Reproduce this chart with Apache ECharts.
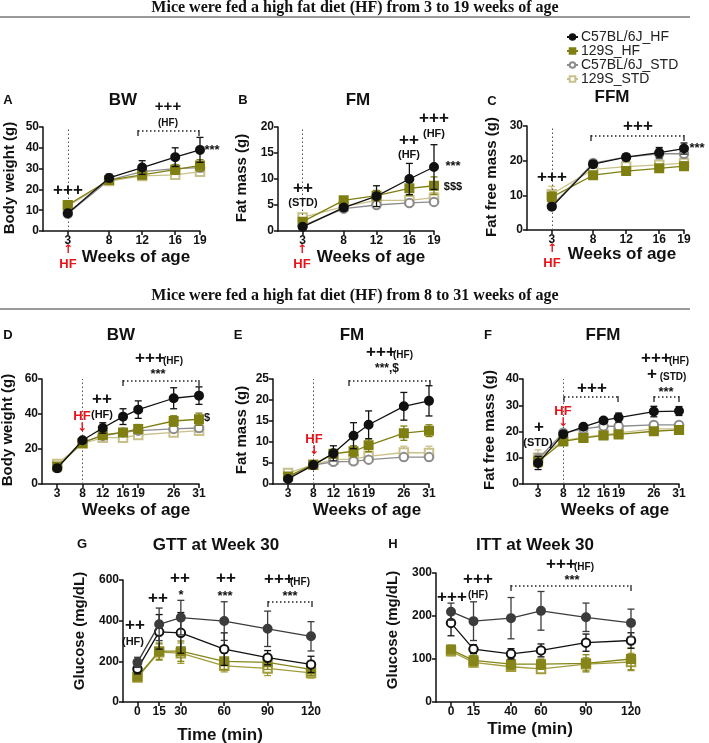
<!DOCTYPE html>
<html><head><meta charset="utf-8">
<script src="https://cdn.jsdelivr.net/npm/echarts@6/dist/echarts.min.js"></script>
<style>html,body{margin:0;padding:0;background:#fff}#c{width:709px;height:743px}</style>
</head><body><div id="c"></div><script>
// ---------- data ----------
const groups = ['C57BL/6J_HF', '129S_HF', 'C57BL/6J_STD', '129S_STD'];
const weeksA = [3, 8, 12, 16, 19];
const weeksD = [3, 8, 12, 16, 19, 26, 31];
const gttTime = [0, 15, 30, 60, 90, 120];
const ittTime = [0, 15, 40, 60, 90, 120];

// Panel A: BW (3-19 wk)
const bwA_c57hf = [8.5, 25.5, 30.5, 35.5, 39], bwA_c57hf_e = [1.5, 1.8, 3.3, 4.5, 6];
const bwA_129hf = [12.5, 24.5, 27, 29.5, 31.5], bwA_129hf_e = [1.5, 1.5, 2, 2.3, 2.8];
const bwA_c57std = [8.3, 24.5, 28.5, 30, 30.5], bwA_c57std_e = [1.2, 1.5, 1.5, 1.5, 2];
const bwA_129std = [12, 24, 26.5, 27, 28.5], bwA_129std_e = [1.5, 1.5, 1.5, 1.5, 1.5];
// Panel B: FM (3-19 wk)
const fmB_c57hf = [0.8, 4.5, 6.7, 10, 12.3], fmB_c57hf_e = [0.3, 0.5, 2, 3, 4.3];
const fmB_129hf = [1.8, 5.9, 6.8, 8.2, 8.7], fmB_129hf_e = [0.5, 0.7, 1, 1.3, 1.7];
const fmB_c57std = [1.0, 4.3, 5.0, 5.4, 5.6], fmB_c57std_e = [0.3, 0.4, 0.5, 0.5, 0.5];
const fmB_129std = [2.6, 4.7, 5.9, 5.9, 6.4], fmB_129std_e = [0.5, 0.5, 0.7, 0.8, 1];
// Panel C: FFM (3-19 wk)
const ffmC_c57hf = [6.7, 19, 21, 22.3, 23.5], ffmC_c57hf_e = [0.8, 1, 1, 1.5, 1.6];
const ffmC_129hf = [9.5, 15.8, 17, 17.8, 18.4], ffmC_129hf_e = [1.5, 1, 1, 1, 1.2];
const ffmC_c57std = [7, 19.3, 21, 22, 22], ffmC_c57std_e = [0.8, 1, 1, 1.5, 1.2];
const ffmC_129std = [10.3, 17.5, 18.3, 18.8, 19.3], ffmC_129std_e = [2.3, 1, 1, 1, 1.2];
// Panel D: BW (3-31 wk)
const bwD_c57hf = [9, 25, 32, 38.5, 42.5, 49, 50.5], bwD_c57hf_e = [2, 1.5, 3, 4.5, 5, 6, 5];
const bwD_129hf = [10, 23.5, 28, 29.5, 31.5, 36, 37], bwD_129hf_e = [1.5, 1, 2, 2, 2.5, 3, 3.5];
const bwD_c57std = [9.5, 24, 27.5, 29.5, 30.5, 31.5, 32], bwD_c57std_e = [1.5, 1.5, 1.5, 2, 2, 2, 2];
const bwD_129std = [11.5, 23, 26.5, 26.5, 28, 29.5, 30.5], bwD_129std_e = [1.5, 1.5, 1.5, 1.5, 1.5, 1.5, 1.5];
// Panel E: FM (3-31 wk)
const fmE_c57hf = [1.2, 4.5, 7.3, 11.5, 14.1, 18.5, 19.8], fmE_c57hf_e = [0.3, 0.5, 1.8, 3.1, 3.3, 3.3, 3.6];
const fmE_129hf = [1.8, 4.6, 7.2, 7.8, 9.2, 12.1, 12.7], fmE_129hf_e = [0.5, 0.5, 1, 1.3, 1.5, 1.7, 1.4];
const fmE_c57std = [1.5, 4.5, 5.3, 5.4, 5.8, 6.4, 6.4], fmE_c57std_e = [0.4, 0.4, 0.5, 0.5, 0.5, 0.6, 0.6];
const fmE_129std = [2.6, 4.6, 5.8, 5.9, 6.6, 7.5, 7.4], fmE_129std_e = [0.5, 0.5, 0.8, 0.9, 1, 1.5, 1.6];
// Panel F: FFM (3-31 wk)
const ffmF_c57hf = [8, 19, 21.8, 24.2, 25.3, 27.6, 27.8], ffmF_c57hf_e = [2.5, 1, 1, 1, 1.7, 2, 1.7];
const ffmF_129hf = [8.5, 16.2, 17.5, 18.5, 18.9, 20.1, 20.6], ffmF_129hf_e = [2, 1, 1, 1, 1, 1, 1];
const ffmF_c57std = [9.5, 19.5, 21, 22, 22, 22.5, 22.5], ffmF_c57std_e = [2, 1, 1, 1, 1, 1, 1];
const ffmF_129std = [10, 16.5, 17.8, 18.8, 19.5, 21, 21], ffmF_129std_e = [3, 1, 1, 1, 1, 1, 1];
// Panel G: GTT
const gtt_c57hf = [195, 382, 415, 398, 360, 323], gtt_c57hf_e = [25, 80, 85, 95, 87, 72];
const gtt_129hf = [125, 250, 250, 200, 195, 160], gtt_129hf_e = [15, 40, 50, 40, 35, 30];
const gtt_c57std = [163, 345, 340, 260, 218, 185], gtt_c57std_e = [25, 85, 100, 80, 35, 40];
const gtt_129std = [120, 245, 240, 178, 165, 143], gtt_129std_e = [15, 40, 50, 30, 35, 25];
// Panel H: ITT
const itt_c57hf = [210, 188, 195, 212, 197, 184], itt_c57hf_e = [20, 45, 48, 45, 33, 32];
const itt_129hf = [122, 97, 88, 88, 90, 100], itt_129hf_e = [10, 12, 12, 12, 20, 25];
const itt_c57std = [184, 123, 112, 120, 138, 143], itt_c57std_e = [30, 10, 12, 15, 20, 18];
const itt_129std = [118, 92, 82, 77, 88, 93], itt_129std_e = [10, 10, 10, 10, 15, 20];

// ---------- layout ----------
const FONT = '"Liberation Sans", Arial, sans-serif';
const styleMain = [
  {symbol: 'circle', color: '#111111', z: 6},
  {symbol: 'rect', color: '#7f7f12', z: 5},
  {symbol: 'emptyCircle', color: '#8c8c8c', z: 4},
  {symbol: 'emptyRect', color: '#c9c08a', z: 3}
];
const styleTol = [
  {symbol: 'circle', color: '#3c3c3c', z: 6},
  {symbol: 'rect', color: '#85851a', z: 4},
  {symbol: 'emptyCircle', color: '#111111', z: 5},
  {symbol: 'emptyRect', color: '#a39c3a', z: 3}
];
const panels = [
  {left: 43, top: 127, w: 157, h: 104, xmin: 0, xmax: 19, ymax: 50, yi: 10, xs: weeksA, vline: 3, st: styleMain,
   d: [[bwA_c57hf, bwA_c57hf_e], [bwA_129hf, bwA_129hf_e], [bwA_c57std, bwA_c57std_e], [bwA_129std, bwA_129std_e]]},
  {left: 278, top: 127, w: 156, h: 104, xmin: 0, xmax: 19, ymax: 20, yi: 5, xs: weeksA, vline: 3, st: styleMain,
   d: [[fmB_c57hf, fmB_c57hf_e], [fmB_129hf, fmB_129hf_e], [fmB_c57std, fmB_c57std_e], [fmB_129std, fmB_129std_e]]},
  {left: 527, top: 126, w: 157, h: 104, xmin: 0, xmax: 19, ymax: 30, yi: 10, xs: weeksA, vline: 3, st: styleMain,
   d: [[ffmC_c57hf, ffmC_c57hf_e], [ffmC_129hf, ffmC_129hf_e], [ffmC_c57std, ffmC_c57std_e], [ffmC_129std, ffmC_129std_e]]},
  {left: 42, top: 379, w: 157, h: 105, xmin: 0, xmax: 31, ymax: 60, yi: 20, xs: weeksD, vline: 8, st: styleMain,
   d: [[bwD_c57hf, bwD_c57hf_e], [bwD_129hf, bwD_129hf_e], [bwD_c57std, bwD_c57std_e], [bwD_129std, bwD_129std_e]]},
  {left: 273, top: 379, w: 156, h: 105, xmin: 0, xmax: 31, ymax: 25, yi: 5, xs: weeksD, vline: 8, st: styleMain,
   d: [[fmE_c57hf, fmE_c57hf_e], [fmE_129hf, fmE_129hf_e], [fmE_c57std, fmE_c57std_e], [fmE_129std, fmE_129std_e]]},
  {left: 523, top: 379, w: 156, h: 105, xmin: 0, xmax: 31, ymax: 40, yi: 10, xs: weeksD, vline: 8, st: styleMain,
   d: [[ffmF_c57hf, ffmF_c57hf_e], [ffmF_129hf, ffmF_129hf_e], [ffmF_c57std, ffmF_c57std_e], [ffmF_129std, ffmF_129std_e]]},
  {left: 123, top: 580, w: 188, h: 122, xmin: -10, xmax: 120, ymax: 600, yi: 200, xs: gttTime, vline: null, st: styleTol,
   d: [[gtt_c57hf, gtt_c57hf_e], [gtt_129hf, gtt_129hf_e], [gtt_c57std, gtt_c57std_e], [gtt_129std, gtt_129std_e]]},
  {left: 436, top: 573, w: 195, h: 129, xmin: -10, xmax: 120, ymax: 300, yi: 100, xs: ittTime, vline: null, st: styleTol,
   d: [[itt_c57hf, itt_c57hf_e], [itt_129hf, itt_129hf_e], [itt_c57std, itt_c57std_e], [itt_129std, itt_129std_e]]}
];

const grid = [], xAxis = [], yAxis = [], series = [];
const axisLine = {show: true, onZero: false, lineStyle: {color: '#111', width: 1.5}};
const lbl = {color: '#111', fontFamily: FONT, fontWeight: 'bold', fontSize: 12, margin: 4};
panels.forEach((p, i) => {
  grid.push({left: p.left, top: p.top, width: p.w, height: p.h});
  xAxis.push({type: 'value', gridIndex: i, min: p.xmin, max: p.xmax, splitLine: {show: false},
    axisLine, axisTick: {show: true, length: 4, customValues: p.xs, lineStyle: {color: '#111', width: 1.5}},
    axisLabel: Object.assign({customValues: p.xs}, lbl)});
  yAxis.push({type: 'value', gridIndex: i, min: 0, max: p.ymax, interval: p.yi, splitLine: {show: false},
    axisLine, axisTick: {show: true, length: 4, lineStyle: {color: '#111', width: 1.5}}, axisLabel: lbl});
  p.d.forEach((pair, k) => {
    const st = p.st[k];
    const mean = pair[0], err = pair[1];
    series.push({
      type: 'custom', name: 'err' + i + '_' + k, xAxisIndex: i, yAxisIndex: i, z: st.z, silent: true,
      data: p.xs.map((x, j) => [x, mean[j], err[j]]),
      renderItem: (params, api) => {
        const x = api.value(0), y = api.value(1), e = api.value(2);
        const t = api.coord([x, y + e]), b = api.coord([x, y - e]);
        const cw = 3.5, s = {stroke: st.color, lineWidth: 1.3};
        return {type: 'group', children: [
          {type: 'line', shape: {x1: t[0], y1: t[1], x2: b[0], y2: b[1]}, style: s},
          {type: 'line', shape: {x1: t[0] - cw, y1: t[1], x2: t[0] + cw, y2: t[1]}, style: s},
          {type: 'line', shape: {x1: b[0] - cw, y1: b[1], x2: b[0] + cw, y2: b[1]}, style: s}
        ]};
      }
    });
    const s = {
      type: 'line', name: groups[k], xAxisIndex: i, yAxisIndex: i, z: st.z,
      data: p.xs.map((x, j) => [x, mean[j]]),
      symbol: st.symbol, symbolSize: 8.5, showSymbol: true,
      lineStyle: {color: st.color, width: 1.3},
      itemStyle: {color: st.color, borderColor: st.color, borderWidth: 1.5}
    };
    if (k === 0 && p.vline !== null) {
      s.markLine = {silent: true, symbol: 'none', label: {show: false}, animation: false,
        lineStyle: {type: [1.5, 2.5], color: '#555', width: 1}, data: [{xAxis: p.vline}]};
    }
    series.push(s);
  });
});

// ---------- annotations (text, labels, brackets) ----------
const gr = [];
function T(text, x, y, size, o) {
  o = o || {};
  gr.push({type: 'text', x: x, y: y, rotation: o.rot || 0, z: 100,
    style: {text: text, fontSize: size, fontWeight: o.w || 'bold', fontFamily: o.f || FONT,
      fill: o.c || '#111', textAlign: o.a || 'center', verticalAlign: 'middle', textVerticalAlign: 'middle'}});
}
function Lh(x1, x2, y, dotted) {
  gr.push({type: 'line', z: 100, shape: {x1: x1, y1: y, x2: x2, y2: y},
    style: {stroke: dotted ? '#222' : '#777', lineWidth: dotted ? 1.3 : 1.6, lineDash: dotted ? [1.5, 2.5] : null}});
}
function bracket(x1, x2, y) {
  Lh(x1, x2, y, true);
  [x1, x2].forEach(x => gr.push({type: 'line', z: 100, shape: {x1: x, y1: y - 1, x2: x, y2: y + 5}, style: {stroke: '#222', lineWidth: 1.3}}));
}
const SERIF = '"Liberation Serif", "Times New Roman", serif';
T('Mice were fed a high fat diet (HF) from 3 to 19 weeks of age', 355, 8, 16, {f: SERIF});
Lh(0, 690, 17, false);
T('Mice were fed a high fat diet (HF) from 8 to 31 weeks of age', 355, 296, 16, {f: SERIF});
Lh(0, 690, 309, false);

// panel letters & titles
T('A', 8, 100, 13); T('BW', 123, 100, 17);
T('B', 243, 100, 13); T('FM', 358, 100, 17);
T('C', 492, 101, 13); T('FFM', 612, 97, 17);
T('D', 8, 335, 13); T('BW', 121, 335, 17);
T('E', 238, 335, 13); T('FM', 352, 335, 17);
T('F', 488, 335, 13); T('FFM', 603, 335, 17);
T('G', 82, 544, 13); T('GTT at Week 30', 216, 545, 17);
T('H', 393, 544, 13); T('ITT at Week 30', 535, 545, 17);

// axis names
const R = Math.PI / 2;
T('Body weight (g)', 10, 178, 15, {rot: R}); T('Weeks of age', 136, 257, 17);
T('Fat mass (g)', 242, 178, 15, {rot: R}); T('Weeks of age', 371, 257, 17);
T('Fat free mass (g)', 492, 177, 15, {rot: R}); T('Weeks of age', 622, 254, 17);
T('Body weight (g)', 8, 430, 15, {rot: R}); T('Weeks of age', 136, 510, 17);
T('Fat mass (g)', 242, 430, 15, {rot: R}); T('Weeks of age', 367, 510, 17);
T('Fat free mass (g)', 490, 430, 15, {rot: R}); T('Weeks of age', 615, 510, 17);
T('Glucose (mg/dL)', 80, 631, 15, {rot: R}); T('Time (min)', 220, 735, 17);
T('Glucose (mg/dL)', 393, 630, 15, {rot: R}); T('Time (min)', 530, 729, 17);

// red HF markers
const RED = '#e8131b';
const ARW = '"DejaVu Sans", "Liberation Sans", sans-serif';
[[68, 250], [302, 250], [552, 249]].forEach(([x, y]) => { T('↑', x, y, 12, {c: RED, f: ARW}); T('HF', x, y + 14, 13, {c: RED}); });
[[82, 416], [314, 439], [563, 411]].forEach(([x, y]) => { T('HF', x, y, 13, {c: RED}); T('↓', x, y + 12, 12, {c: RED, f: ARW}); });

// A
T('+++', 68, 190, 17); T('+++', 168, 107, 15); T('(HF)', 168, 123, 10); bracket(138, 199, 131); T('***', 212, 150, 13);
// B
T('++', 303, 188, 17); T('(STD)', 303, 203, 11); T('++', 409, 140, 17); T('(HF)', 409, 155, 11);
T('+++', 434, 118, 17); T('(HF)', 434, 134, 11); T('***', 453, 166, 13); T('$$$', 453, 187, 11);
// C
T('+++', 552, 177, 17); T('+++', 638, 126, 17); bracket(591, 684, 136); T('***', 697, 148, 13);
// D
T('+++', 150, 358, 17); T('(HF)', 173, 361, 10); T('***', 158, 374, 13); bracket(123, 199, 381);
T('++', 102, 399, 17); T('(HF)', 102, 415, 11); T('$', 207, 418, 11);
// E
T('+++', 381, 352, 17); T('(HF)', 403, 355, 10); T('***,$', 387, 369, 12); bracket(349, 430, 381);
// F
T('+++', 656, 358, 17); T('(HF)', 679, 361, 10); T('+', 652, 374, 17); T('(STD)', 673, 377, 10);
T('***', 666, 392, 13); bracket(654, 679, 397); T('+++', 592, 388, 17); bracket(564, 618, 397);
T('+', 539, 427, 17); T('(STD)', 538, 443, 11);
// G
T('++', 135, 625, 17); T('(HF)', 133, 642, 11); T('++', 158, 598, 17);
T('++', 180, 578, 17); T('*', 181, 595, 13); T('++', 226, 578, 17); T('***', 225, 596, 13);
T('+++', 279, 579, 17); T('(HF)', 300, 582, 10); T('***', 290, 596, 13); bracket(268, 312, 602);
// H
T('+++', 452, 597, 17); T('+++', 478, 579, 17); T('(HF)', 478, 595, 10);
T('+++', 561, 564, 17); T('(HF)', 584, 567, 10); T('***', 572, 580, 13); bracket(511, 631, 586);

const chart = echarts.init(document.getElementById('c'), null, {renderer: 'canvas'});
chart.setOption({
  animation: false,
  backgroundColor: '#fff',
  legend: {
    data: groups, orient: 'vertical', left: 561, top: 25, itemWidth: 11, itemHeight: 7, itemGap: 0,
    textStyle: {fontFamily: FONT, fontSize: 14, color: '#222', lineHeight: 14, padding: [0, 0, 0, -2]}
  },
  grid: grid, xAxis: xAxis, yAxis: yAxis, series: series, graphic: gr
});
</script></body></html>
